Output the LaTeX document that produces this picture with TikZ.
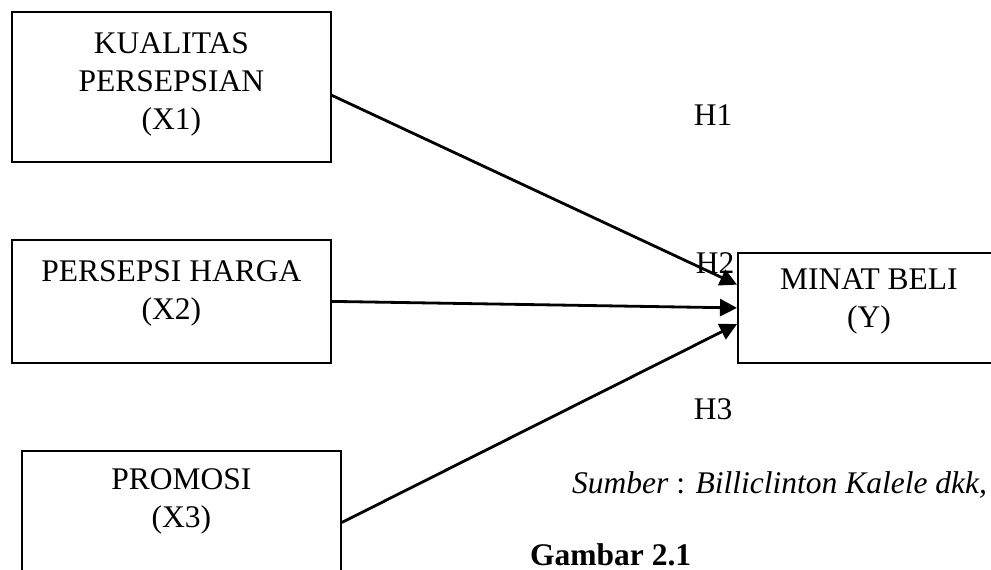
\documentclass[tikz,border=0pt]{standalone}
\usepackage{fontspec}
\setmainfont{Liberation Serif}
\usepackage{tikz}
\usetikzlibrary{arrows.meta}
\usetikzlibrary{positioning}
\tikzset{>={Triangle[width=17pt,length=17pt]}}
\tikzset{
  varbox/.style={draw, line width=1.8pt, inner sep=0pt, minimum width=319pt},
  vartext/.style={align=center, inner sep=0pt, anchor=north,
    font=\fontsize{31.5}{38}\selectfont},
  hlabel/.style={anchor=base, inner sep=0pt, font=\fontsize{31.5}{38}\selectfont},
  path/.style={->, line width=2.8pt}
}

\begin{document}
\begin{tikzpicture}[x=1pt, y=-1pt]

  \clip (0,0) rectangle (991,570);

  % boxes
  \node[varbox, minimum height=150pt, anchor=north west] (x1) at (11,11) {};
  \node[varbox, minimum height=123pt, anchor=north west] (x2) at (11,239) {};
  \node[varbox, minimum height=160pt, anchor=north west] (x3) at (21,450) {};
  \node[varbox, minimum width=262pt, minimum height=110pt, anchor=north west] (y) at (737,252) {};

  % texts
  \node[vartext, below=21pt of x1.north] (t1) {KUALITAS\\PERSEPSIAN\\(X1)};
  \node[vartext, below=21pt of x2.north] (t2) {PERSEPSI HARGA\\(X2)};
  \node[vartext, below=18pt of x3.north] (t3) {PROMOSI\\(X3)};
  \node[vartext, below=17pt of y.north] (ty) {MINAT BELI\\(Y)};

  % arrows
  \draw[path] (x1.-3) -- (y.170);
  \draw[path] (x2.east) -- (y.west);
  \draw[path] (x3.3) -- (y.187);

  \node[hlabel] (h1) at (713,125) {H1};
  \node[hlabel] (h2) at (715,273) {H2};
  \node[hlabel] (h3) at (713,419) {H3};

  \node[hlabel, anchor=base west] (src) at (572,493)
    {\textit{Sumber} : \textit{Billiclinton Kalele dkk,}};
  \node[hlabel, anchor=base west] (fig) at (530,565) {\textbf{Gambar 2.1}};

\end{tikzpicture}
\end{document}
